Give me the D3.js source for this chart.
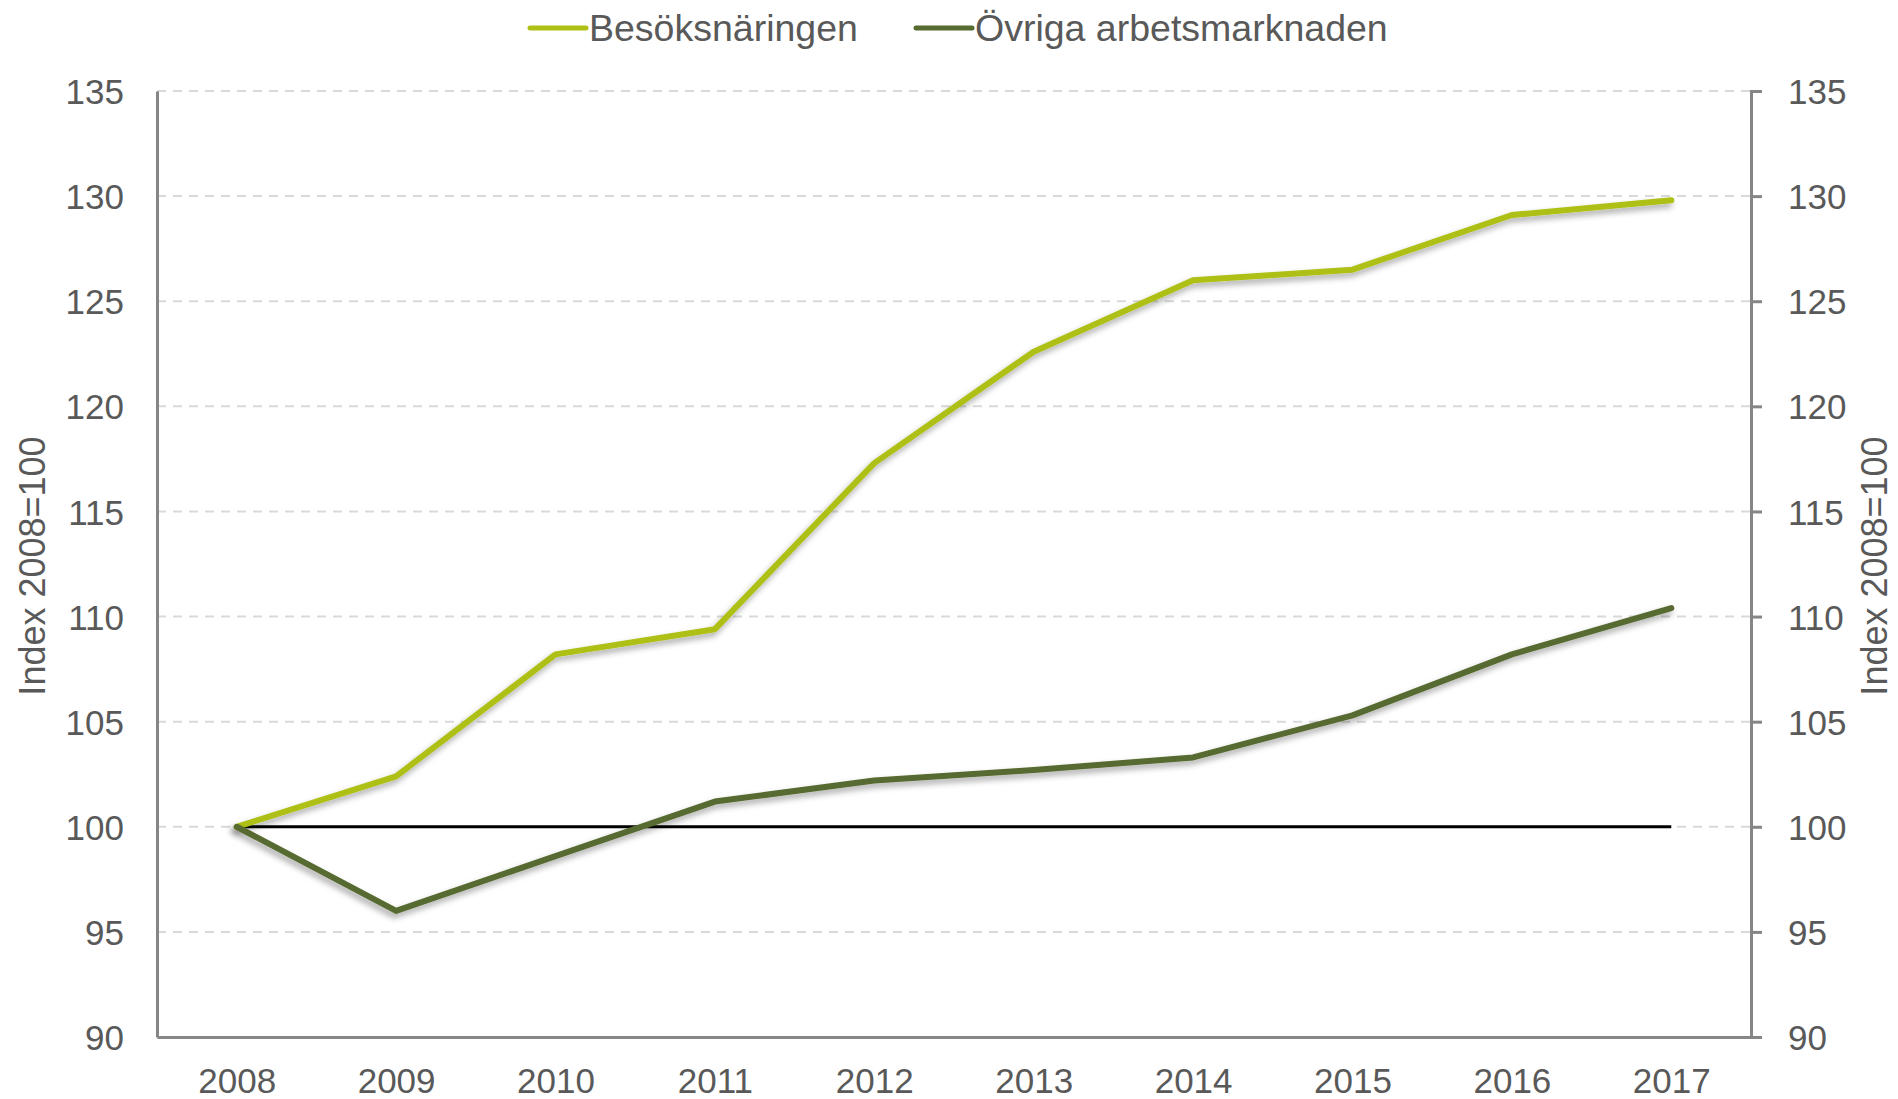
<!DOCTYPE html>
<html>
<head>
<meta charset="utf-8">
<script src="https://cdn.jsdelivr.net/npm/d3@7"></script>
<style>
  body { margin: 0; background: #fff; }
  svg { display: block; font-family: "Liberation Sans", Arial, sans-serif; }
  .tick text { fill: #595959; font-size: 35px; }
</style>
</head>
<body>
<div id="graph"></div>
<script>
var years = ["2008", "2009", "2010", "2011", "2012", "2013", "2014", "2015", "2016", "2017"];
var besok = [100, 102.4, 108.2, 109.4, 117.3, 122.6, 126.0, 126.5, 129.1, 129.8];
var ovriga = [100, 96.0, 98.6, 101.2, 102.2, 102.7, 103.3, 105.3, 108.2, 110.4];
var baseline = [100, 100];
var yTicks = [90, 95, 100, 105, 110, 115, 120, 125, 130, 135];
var seriesNames = ["Besöksnäringen", "Övriga arbetsmarknaden"];
var seriesColors = ["#aebf16", "#566b30"];

var width = 1898, height = 1099;
var margin = { top: 91, left: 157, bottom: 62, right: 147 };
var chartWidth = width - margin.left - margin.right;
var chartHeight = height - margin.top - margin.bottom;

var svg = d3.select("#graph").append("svg")
  .attr("width", width)
  .attr("height", height);

var defs = svg.append("defs");
var shadow = defs.append("filter").attr("id", "shadow")
  .attr("x", "-10%").attr("y", "-10%").attr("width", "120%").attr("height", "120%");
shadow.append("feDropShadow")
  .attr("dx", -2).attr("dy", 4)
  .attr("stdDeviation", 3)
  .attr("flood-color", "#000")
  .attr("flood-opacity", 0.35);

var chartLayer = svg.append("g")
  .attr("transform", "translate(" + [margin.left, margin.top] + ")");

var xScale = d3.scalePoint().domain(years).range([0, chartWidth]).padding(0.5);
var yScale = d3.scaleLinear().domain([90, 135]).range([chartHeight, 0]);

// gridlines
chartLayer.append("g")
  .selectAll("line")
  .data(yTicks.slice(1))
  .enter()
  .append("line")
  .attr("x1", 0)
  .attr("x2", chartWidth)
  .attr("y1", function(d) { return yScale(d); })
  .attr("y2", function(d) { return yScale(d); })
  .attr("stroke", "#d9d9d9")
  .attr("stroke-width", 2)
  .attr("stroke-dasharray", "9,7");

// 100 reference line
chartLayer.append("line")
  .attr("x1", xScale(years[0]))
  .attr("x2", xScale(years[years.length - 1]))
  .attr("y1", yScale(baseline[0]))
  .attr("y2", yScale(baseline[1]))
  .attr("stroke", "#000")
  .attr("stroke-width", 3);

// axes
var leftAxis = chartLayer.append("g")
  .call(d3.axisLeft(yScale).tickValues(yTicks).tickSize(0).tickPadding(33));
var rightAxis = chartLayer.append("g")
  .attr("transform", "translate(" + chartWidth + ",0)")
  .call(d3.axisRight(yScale).tickValues(yTicks).tickSize(11).tickPadding(26));
var bottomAxis = chartLayer.append("g")
  .attr("transform", "translate(0," + chartHeight + ")")
  .call(d3.axisBottom(xScale).tickSize(0).tickPadding(31));

[leftAxis, rightAxis, bottomAxis].forEach(function(ax) {
  ax.select(".domain").attr("stroke", "#868686").attr("stroke-width", 3);
  ax.selectAll(".tick line").attr("stroke", "#868686").attr("stroke-width", 3);
  ax.selectAll(".tick text").style("font-family", "Liberation Sans, Arial, sans-serif");
});
leftAxis.selectAll(".tick text").attr("dy", "0.36em");
rightAxis.selectAll(".tick text").attr("dy", "0.36em");

// series
var line = d3.line()
  .x(function(d, i) { return xScale(years[i]); })
  .y(function(d) { return yScale(d); });

[besok, ovriga].forEach(function(values, i) {
  chartLayer.append("path")
    .datum(values)
    .attr("d", line)
    .attr("fill", "none")
    .attr("stroke", seriesColors[i])
    .attr("stroke-width", 6)
    .attr("stroke-linejoin", "round")
    .attr("stroke-linecap", "round")
    .attr("filter", "url(#shadow)");
});

// axis titles
svg.append("text")
  .attr("transform", "translate(45,566) rotate(-90)")
  .attr("text-anchor", "middle")
  .attr("fill", "#595959")
  .style("font-size", "36px")
  .style("font-family", "Liberation Sans Narrow, Liberation Sans, Arial, sans-serif")
  .text("Index 2008=100");

svg.append("text")
  .attr("transform", "translate(1887,566) rotate(-90)")
  .attr("text-anchor", "middle")
  .attr("fill", "#595959")
  .style("font-size", "36px")
  .style("font-family", "Liberation Sans Narrow, Liberation Sans, Arial, sans-serif")
  .text("Index 2008=100");

// legend
var legendX = [530, 916];
var legend = svg.append("g");
seriesNames.forEach(function(name, i) {
  var g = legend.append("g").attr("transform", "translate(" + [legendX[i], 28] + ")");
  g.append("line")
    .attr("x1", 0).attr("x2", 56)
    .attr("y1", 0).attr("y2", 0)
    .attr("stroke", seriesColors[i])
    .attr("stroke-width", 5)
    .attr("stroke-linecap", "round");
  g.append("text")
    .attr("x", 59)
    .attr("y", 13)
    .attr("fill", "#595959")
    .style("font-size", "37.5px")
    .text(name);
});
</script>
</body>
</html>
